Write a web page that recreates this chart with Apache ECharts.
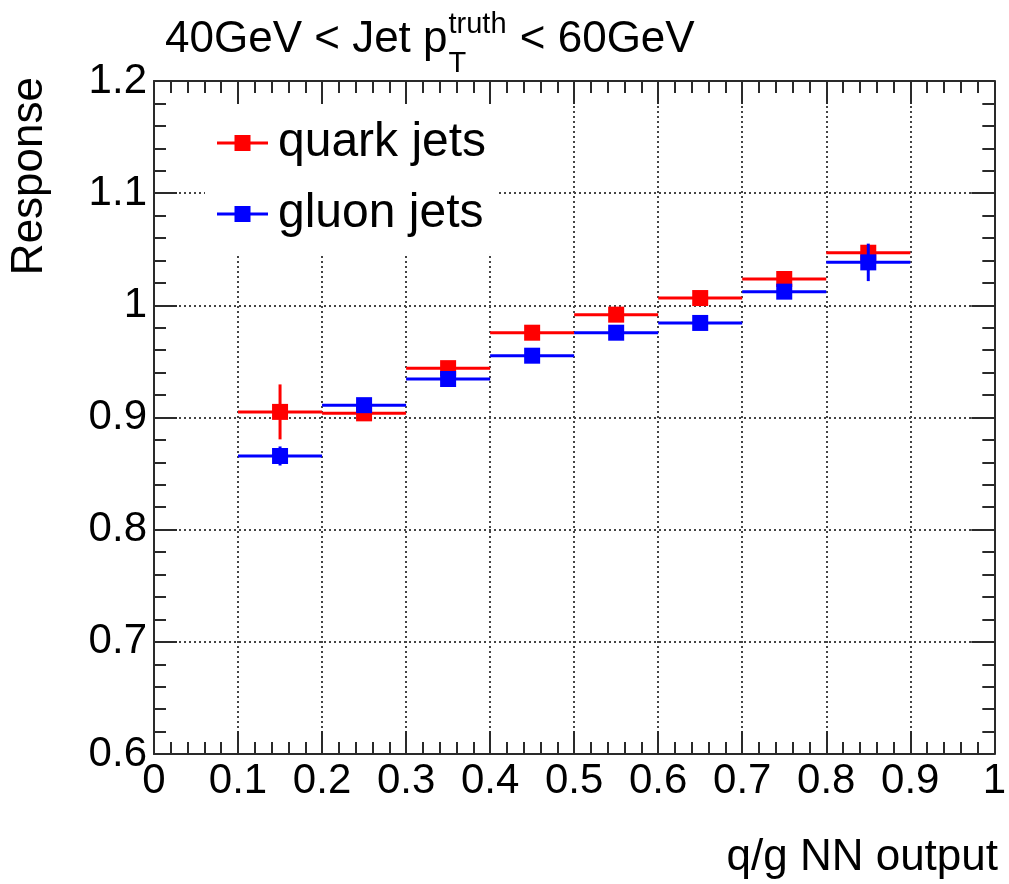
<!DOCTYPE html>
<html>
<head>
<meta charset="utf-8">
<script src="https://cdn.jsdelivr.net/npm/echarts@6/dist/echarts.min.js"></script>
<style>
html,body{margin:0;padding:0;background:#fff;}
#chart{width:1009px;height:884px;}
</style>
</head>
<body>
<div id="chart"></div>
<script>
// ---- data ----
const binEdges = [0.1, 0.2, 0.3, 0.4, 0.5, 0.6, 0.7, 0.8, 0.9];
const quarkResp = [0.905, 0.9037, 0.944, 0.9756, 0.9917, 1.0065, 1.0235, 1.0469];
const quarkErr  = [0.0245, 0.006, 0.004, 0.003, 0.003, 0.003, 0.003, 0.004];
const gluonResp = [0.8657, 0.911, 0.9343, 0.9551, 0.9756, 0.9843, 1.0122, 1.0383];
const gluonErr  = [0.0085, 0.004, 0.003, 0.003, 0.003, 0.003, 0.003, 0.0167];
const xTicks = [0, 0.1, 0.2, 0.3, 0.4, 0.5, 0.6, 0.7, 0.8, 0.9, 1];
const yTicks = [0.6, 0.7, 0.8, 0.9, 1, 1.1, 1.2];
const seriesNames = ['quark jets', 'gluon jets'];
const seriesColors = ['#ff0000', '#0000ff'];

const FONT = '"Liberation Sans", Arial, Helvetica, sans-serif';

function measure(s, size) {
  const c = document.createElement('canvas').getContext('2d');
  c.font = size + 'px ' + FONT;
  return c.measureText(s).width;
}

function buildData(resp, err) {
  return resp.map((v, i) => [binEdges[i], binEdges[i + 1], v, err[i]]);
}

function renderItem(params, api) {
  const x0 = api.value(0), x1 = api.value(1), y = api.value(2), e = api.value(3);
  const xc = (x0 + x1) / 2;
  const pL = api.coord([x0, y]);
  const pR = api.coord([x1, y]);
  const pC = api.coord([xc, y]);
  const pT = api.coord([xc, y + e]);
  const pB = api.coord([xc, y - e]);
  const color = api.visual('color');
  const s = 16;
  return {
    type: 'group',
    children: [
      { type: 'line', shape: { x1: pL[0], y1: pL[1], x2: pR[0], y2: pR[1] },
        style: { stroke: color, lineWidth: 3 } },
      { type: 'line', shape: { x1: pT[0], y1: pT[1], x2: pB[0], y2: pB[1] },
        style: { stroke: color, lineWidth: 3 } },
      { type: 'rect', shape: { x: pC[0] - s / 2, y: pC[1] - s / 2, width: s, height: s },
        style: { fill: color } }
    ]
  };
}

const chart = echarts.init(document.getElementById('chart'), null, { renderer: 'canvas' });

const AXC = '#2a2a2a';
const axisCommon = {
  min: 0, max: 1, interval: 0.1,
  axisLine: { show: true, onZero: false, lineStyle: { color: AXC, width: 2 } },
  axisTick: { show: true, inside: true, length: 23, lineStyle: { color: AXC, width: 2 } },
  minorTick: { show: true, splitNumber: 5, length: 12, lineStyle: { color: AXC, width: 2 } },
};
const gridLine = { show: true, lineStyle: { color: '#444', width: 2, type: [2, 3] } };

// title pieces
const tMain1 = '40GeV < Jet p', tSup = 'truth', tSub = 'T', tMain2 = ' < 60GeV';
const titleX = 165, titleSize = 44, subSize = 29;
const w1 = measure(tMain1, titleSize);
const wSup = Math.max(measure(tSup, subSize), measure(tSub, subSize));

const iconPath = 'path://M0,6.5L17.5,6.5L17.5,0L33.5,0L33.5,6.5L51,6.5L51,9.5L33.5,9.5L33.5,16L17.5,16L17.5,9.5L0,9.5Z';

chart.setOption({
  animation: false,
  backgroundColor: '#fff',
  textStyle: { fontFamily: FONT },
  grid: { left: 154, right: 11, top: 81, bottom: 130, containLabel: false },
  xAxis: [
    Object.assign({}, axisCommon, {
      type: 'value', position: 'bottom',
      axisLabel: { show: true, color: '#000', fontSize: 42, fontFamily: FONT, margin: 6,
        formatter: v => String(xTicks.find(t => Math.abs(t - v) < 1e-6) ?? v) },
      splitLine: gridLine
    }),
    Object.assign({}, axisCommon, {
      type: 'value', position: 'top',
      axisLabel: { show: false }, splitLine: { show: false }
    })
  ],
  yAxis: [
    Object.assign({}, axisCommon, {
      type: 'value', position: 'left', min: 0.6, max: 1.2, interval: 0.1,
      axisLabel: { show: true, color: '#000', fontSize: 42, fontFamily: FONT, margin: 7,
        formatter: v => String(yTicks.find(t => Math.abs(t - v) < 1e-6) ?? v) },
      splitLine: gridLine
    }),
    Object.assign({}, axisCommon, {
      type: 'value', position: 'right', min: 0.6, max: 1.2, interval: 0.1,
      axisLabel: { show: false }, splitLine: { show: false }
    })
  ],
  legend: {
    show: true, orient: 'vertical', left: 205, top: 105,
    backgroundColor: '#fff', borderWidth: 0,
    padding: [14, 10, 17, 12],
    itemWidth: 51, itemHeight: 16, itemGap: 23,
    textStyle: { fontSize: 48, color: '#000', fontFamily: FONT, padding: [0, 0, 0, 5] },
    data: seriesNames.map(n => ({ name: n, icon: iconPath })),
    selectedMode: false
  },
  series: [
    {
      type: 'custom', name: seriesNames[0], renderItem,
      itemStyle: { color: seriesColors[0] },
      encode: { x: [0, 1], y: 2 },
      data: buildData(quarkResp, quarkErr), z: 3
    },
    {
      type: 'custom', name: seriesNames[1], renderItem,
      itemStyle: { color: seriesColors[1] },
      encode: { x: [0, 1], y: 2 },
      data: buildData(gluonResp, gluonErr), z: 4
    }
  ],
  graphic: [
    { type: 'text', x: titleX, y: 40, style: { text: tMain1, fontSize: titleSize, fontFamily: FONT, fill: '#000', verticalAlign: 'middle', align: 'left' } },
    { type: 'text', x: titleX + w1 + 1, y: 25, style: { text: tSup, fontSize: subSize, fontFamily: FONT, fill: '#000', verticalAlign: 'middle', align: 'left' } },
    { type: 'text', x: titleX + w1 + 1, y: 64, style: { text: tSub, fontSize: subSize, fontFamily: FONT, fill: '#000', verticalAlign: 'middle', align: 'left' } },
    { type: 'text', x: titleX + w1 + wSup + 2, y: 40, style: { text: tMain2, fontSize: titleSize, fontFamily: FONT, fill: '#000', verticalAlign: 'middle', align: 'left' } },
    { type: 'text', x: 30, y: 77, rotation: Math.PI / 2, style: { text: 'Response', fontSize: 44, fontFamily: FONT, fill: '#000', verticalAlign: 'middle', align: 'right' } },
    { type: 'text', x: 998, y: 858, style: { text: 'q/g NN output', fontSize: 44, fontFamily: FONT, fill: '#000', verticalAlign: 'middle', align: 'right' } }
  ]
});
</script>
</body>
</html>
